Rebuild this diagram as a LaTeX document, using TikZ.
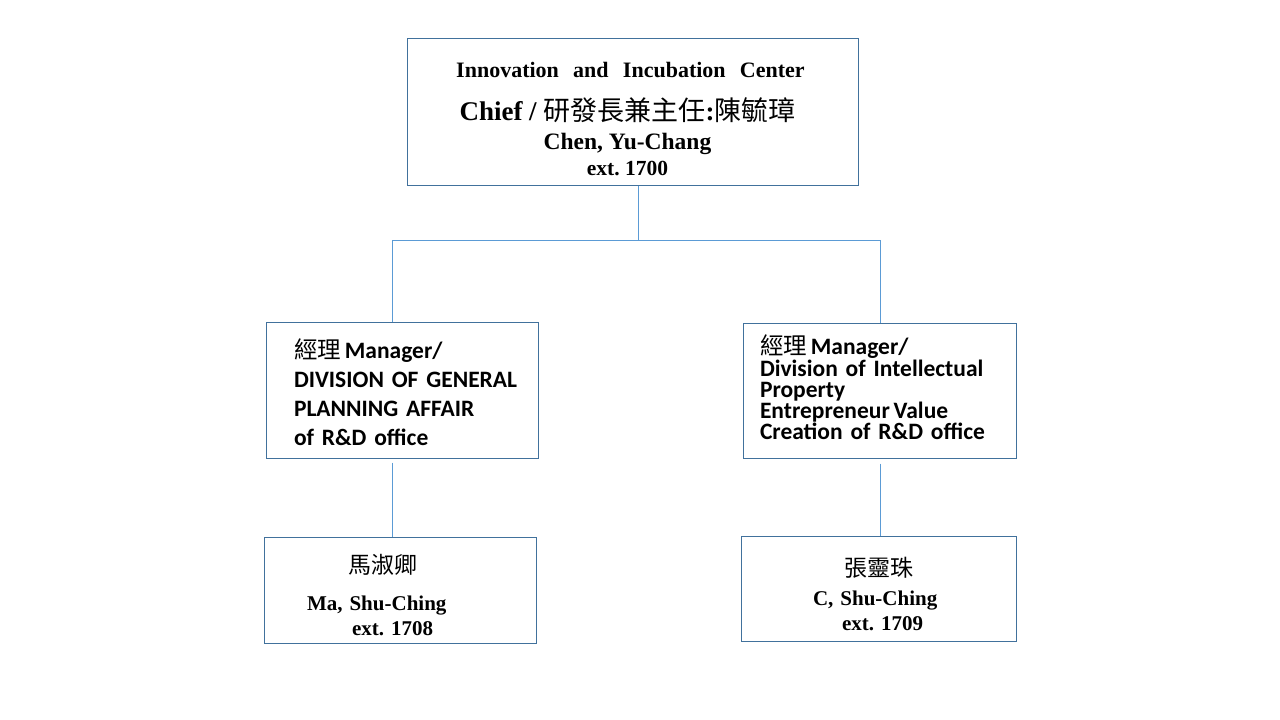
\documentclass[tikz,border=0pt]{standalone}
\usepackage{fontspec}
\setmainfont{Liberation Serif}
\newfontfamily\calfont{Carlito}
\newfontfamily\cjk{Noto Sans CJK TC}
\definecolor{boxline}{RGB}{65,113,156}
\definecolor{linkline}{RGB}{91,155,213}
\tikzset{
  orgbox/.style={draw=boxline, line width=1pt, inner sep=0pt},
  link/.style={draw=linkline, line width=1pt}
}
\begin{document}
\frenchspacing
\begin{tikzpicture}[x=1pt,y=-1pt]
\useasboundingbox (0,0) rectangle (1280,720);
% top
\node (chief) [orgbox, minimum width=451pt, minimum height=147pt, align=center,
  font=\bfseries\fontsize{22}{26}\selectfont] at (632.5,111.5)
  {\rule{0pt}{31pt}{\spaceskip=0.65em Innovation and Incubation Center}\makebox[4pt]{}\\[17pt]
   {\fontsize{27}{26}\selectfont Chief / {\cjk\mdseries 研發長兼主任}:{\cjk\mdseries 陳毓璋}}\makebox[10pt]{}\\[3pt]
   {\fontsize{23.5}{26}\selectfont Chen, Yu-Chang}\makebox[10pt]{}\\
   {\fontsize{21.5}{26}\selectfont ext. 1700}\makebox[10pt]{}};
% managers
\node (mgrA) [orgbox, minimum width=272pt, minimum height=136pt, text width=216pt, align=left,
  font=\calfont\bfseries\fontsize{23.5}{29}\selectfont] at (402,390)
  {\rule{0pt}{25pt}{\cjk\mdseries 經理}\,Manager/\\
   \mbox{DIVISION OF GENERAL}\\
   PLANNING AFFAIR\\
   of R\&D office};
\node (mgrB) [orgbox, minimum width=273pt, minimum height=135pt, text width=239pt, align=left,
  font=\calfont\bfseries\fontsize{23.5}{21.2}\selectfont] at (879.5,390.5)
  {{\cjk\mdseries 經理}\,Manager/\\
   Division of Intellectual\\
   Property\\
   Entrepreneur\,Value\\
   Creation of R\&D office\rule[-6pt]{0pt}{0pt}};
% staff
\node (staffA) [orgbox, minimum width=272pt, minimum height=106pt, text width=186pt, align=left,
  font=\bfseries\fontsize{21}{25}\selectfont] at (400,590)
  {\hspace*{41pt}{\cjk\mdseries\fontsize{23}{25}\selectfont 馬淑卿}\rule{0pt}{30pt}\\[12pt]
   Ma, Shu-Ching\\
   \hspace*{45pt}ext. 1708};
\node (staffB) [orgbox, minimum width=275pt, minimum height=105pt, text width=131pt, align=left,
  font=\bfseries\fontsize{21}{25}\selectfont] at (878.5,588.5)
  {\hspace*{31pt}{\cjk\mdseries\fontsize{23}{25}\selectfont 張靈珠}\rule{0pt}{30pt}\\[4pt]
   C, Shu-Ching\\
   \hspace*{29pt}ext. 1709};
% connectors
\coordinate (jt) at (638,240);
\coordinate (jl) at (392,240);
\coordinate (jr) at (880,240);
\draw[link] (chief.south -| jt) -- (jt);
\draw[link] (jl) -- (jr);
\draw[link] (jl) -- (mgrA.north -| jl);
\draw[link] (jr) -- (mgrB.north -| jr);
\draw[link] ([yshift=-4pt]mgrA.south -| jl) -- (staffA.north -| jl);
\draw[link] ([yshift=-5pt]mgrB.south -| jr) -- (staffB.north -| jr);
\end{tikzpicture}
\end{document}
